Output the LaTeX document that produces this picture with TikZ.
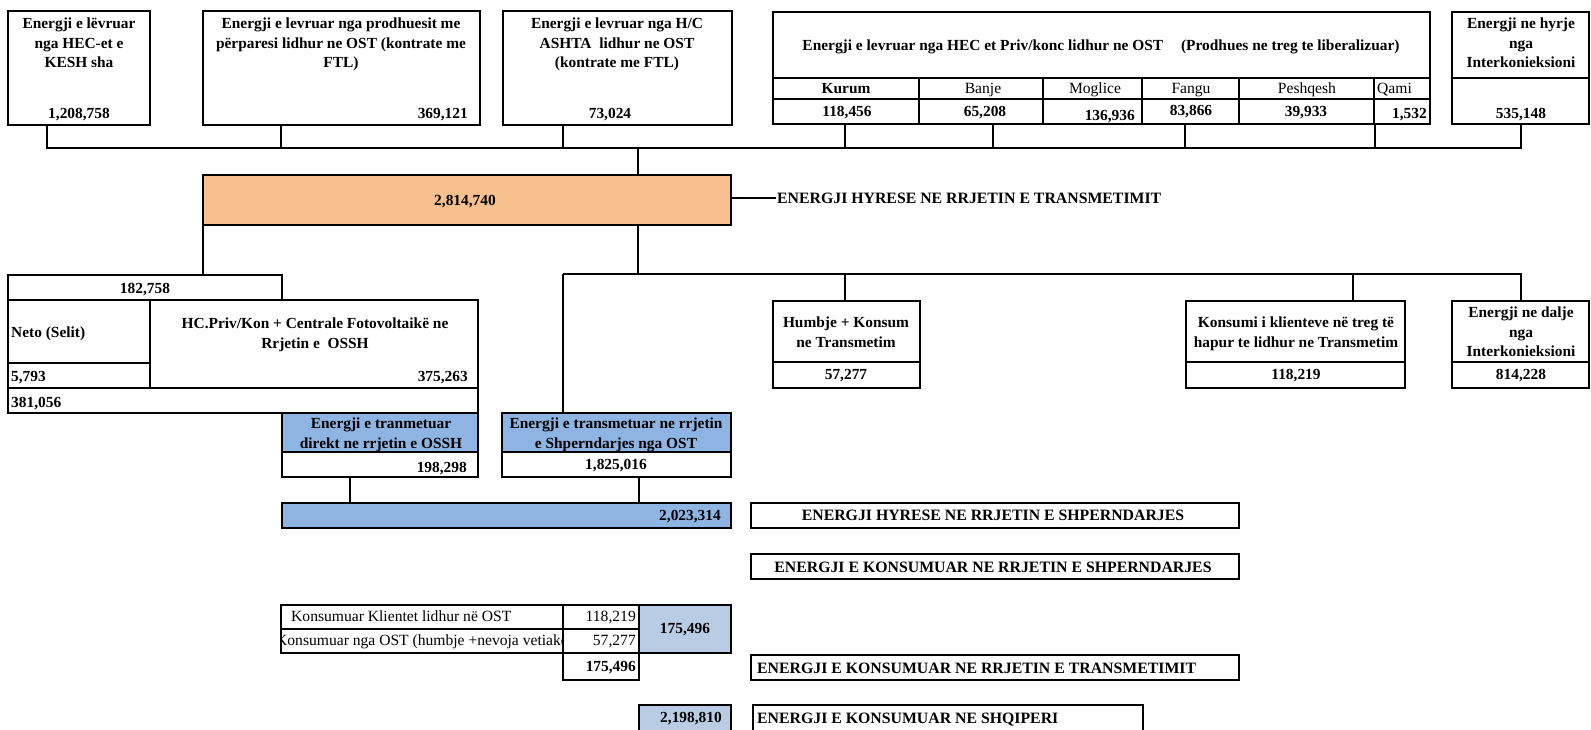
\documentclass[tikz,border=0pt]{standalone}
\usepackage{fontspec}
\setmainfont{Liberation Serif}
\definecolor{orangefill}{RGB}{248,191,143}
\definecolor{bluefill}{RGB}{141,180,226}
\definecolor{lightbluefill}{RGB}{184,204,228}
\tikzset{
  boxsty/.style={draw, line width=2.8pt, inner sep=0pt, outer sep=0pt},
  conn/.style={line width=2.3pt},
  bt/.style={font=\fontsize{15.4}{19.3}\selectfont\bfseries, inner sep=0pt, align=center},
  capt/.style={font=\fontsize{15.8}{19.3}\selectfont\bfseries, inner sep=0pt, align=center},
  rt/.style={font=\fontsize{15.6}{19.3}\selectfont, inner sep=0pt, align=center},
}
\newcommand{\rbox}[6][]{\node[boxsty,#1,anchor=north west,minimum width={(#4-#2)*1pt},minimum height={(#5-#3)*1pt}] (#6) at (#2,#3) {};}
\begin{document}
\begin{tikzpicture}[x=1pt,y=-1pt]
\clip (0,0) rectangle (1591,729);
% ---------- top row ----------
\rbox{8}{11}{150}{125}{b1}
\rbox{203}{11}{480}{125}{b2}
\rbox{503}{11}{732}{125}{b3}
\rbox{773}{12}{1430}{78}{th}
\rbox{773}{78}{919}{99}{tl1}
\rbox{919}{78}{1043}{99}{tl2}
\rbox{1043}{78}{1142}{99}{tl3}
\rbox{1142}{78}{1239}{99}{tl4}
\rbox{1239}{78}{1374}{99}{tl5}
\rbox{1374}{78}{1430}{99}{tl6}
\rbox{773}{99}{919}{124}{tv1}
\rbox{919}{99}{1043}{124}{tv2}
\rbox{1043}{99}{1142}{124}{tv3}
\rbox{1142}{99}{1239}{124}{tv4}
\rbox{1239}{99}{1374}{124}{tv5}
\rbox{1374}{99}{1430}{124}{tv6}
\rbox{1452}{12}{1589}{78}{b5h}
\rbox{1452}{78}{1589}{124}{b5v}

\node[bt,anchor=north] (b1t) at (79,18) {Energji e lëvruar\\nga HEC-et e\\KESH sha};
\node[bt,anchor=base] (b1n) at (79,118) {1,208,758};
\node[bt,anchor=north] (b2t) at (341,18) {Energji e levruar nga prodhuesit me\\përparesi lidhur ne OST (kontrate me\\FTL)};
\node[bt,anchor=base east] (b2n) at (468,118) {369,121};
\node[bt,anchor=north] (b3t) at (617,18) {Energji e levruar nga H/C\\ASHTA\ \ lidhur ne OST\\(kontrate me FTL)};
\node[bt,anchor=base] (b3n) at (610,118) {73,024};
\node[bt,anchor=base] (tht) at (1101,50) {Energji e levruar nga HEC et Priv/konc lidhur ne OST\hspace{18pt}(Prodhues ne treg te liberalizuar)};
\node[bt,anchor=base] (l1) at (846,93) {Kurum};
\node[rt,anchor=base] (l2) at (983,93) {Banje};
\node[rt,anchor=base] (l3) at (1095,93) {Moglice};
\node[rt,anchor=base] (l4) at (1191,93) {Fangu};
\node[rt,anchor=base] (l5) at (1307,93) {Peshqesh};
\node[rt,anchor=base west] (l6) at (1377,93) {Qami};
\node[bt,anchor=base] (v1) at (847,116) {118,456};
\node[bt,anchor=base] (v2) at (985,116) {65,208};
\node[bt,anchor=base east] (v3) at (1135,120) {136,936};
\node[bt,anchor=base] (v4) at (1191,115) {83,866};
\node[bt,anchor=base] (v5) at (1306,116) {39,933};
\node[bt,anchor=base east] (v6) at (1427,118) {1,532};
\node[bt,anchor=north] (b5t) at (1521,18) {Energji ne hyrje\\nga\\Interkonieksioni};
\node[bt,anchor=base] (b5n) at (1521,118) {535,148};

% ---------- top bus ----------
\coordinate (jb1) at (47,148);
\coordinate (jb2) at (281,148);
\coordinate (jb3) at (563,148);
\coordinate (jbc) at (638,148);
\coordinate (jb4) at (845,148);
\coordinate (jb5) at (993,148);
\coordinate (jb6) at (1185,148);
\coordinate (jb7) at (1375,148);
\coordinate (jb9) at (1521,148);
\draw[conn] (b1.south -| jb1) -- (jb1) -- (jb9) -- (b5v.south -| jb9);
\draw[conn] (b2.south -| jb2) -- (jb2);
\draw[conn] (b3.south -| jb3) -- (jb3);
\draw[conn] (tv1.south -| jb4) -- (jb4);
\draw[conn] (tv2.south -| jb5) -- (jb5);
\draw[conn] (tv4.south -| jb6) -- (jb6);
\draw[conn] (tv5.south -| jb7) -- (jb7);

% ---------- transmission input ----------
\rbox[fill=orangefill]{203}{175}{731}{225}{orng}
\node[bt,anchor=base] (orngt) at (465,205) {2,814,740};
\draw[conn] (jbc) -- (orng.north -| jbc);
\coordinate (tl) at (776,198);
\draw[conn] (orng.east |- tl) -- (tl);
\node[capt,anchor=base west] (hyrT) at (777,203) {ENERGJI HYRESE NE RRJETIN E TRANSMETIMIT};

% ---------- right branch ----------
\coordinate (jm) at (638,274);
\coordinate (jL) at (563,274);
\coordinate (jH) at (845,274);
\coordinate (jK) at (1353,274);
\coordinate (jR) at (1521,274);
\rbox{773}{301}{920}{362}{hum}
\rbox{773}{362}{920}{388}{humv}
\rbox{1186}{301}{1405}{362}{kon}
\rbox{1186}{362}{1405}{388}{konv}
\rbox{1452}{301}{1589}{362}{dal}
\rbox{1452}{362}{1589}{388}{dalv}
\node[bt,anchor=north] (humt) at (846,317) {Humbje + Konsum\\ne Transmetim};
\node[bt,anchor=base] (humn) at (846,379) {57,277};
\node[bt,anchor=north] (kont) at (1296,317) {Konsumi i klienteve në treg të\\hapur te lidhur ne Transmetim};
\node[bt,anchor=base] (konn) at (1296,379) {118,219};
\node[bt,anchor=north] (dalt) at (1521,307) {Energji ne dalje\\nga\\Interkonieksioni};
\node[bt,anchor=base] (daln) at (1521,379) {814,228};

% ---------- left group ----------
\rbox{8}{275}{282}{300}{d182}
\rbox{8}{300}{150}{363}{neto}
\rbox{8}{363}{150}{388}{neton}
\rbox{150}{300}{478}{388}{hc}
\rbox{8}{388}{478}{413}{d381}
\node[bt,anchor=base] (d182t) at (145,293) {182,758};
\node[bt,anchor=base west] (netot) at (11,337) {Neto (Selit)};
\node[bt,anchor=base west] (netonv) at (11,381) {5,793};
\node[bt,anchor=north] (hct) at (315,318) {HC.Priv/Kon + Centrale Fotovoltaikë ne\\Rrjetin e\ \ OSSH};
\node[bt,anchor=base east] (hcn) at (468,381) {375,263};
\node[bt,anchor=base west] (d381t) at (11,407) {381,056};

\draw[conn] (orng.south -| jm) -- (jm);
\draw[conn] (orng.south west) -- (d182.north -| orng.south west);

% ---------- distribution input ----------
\rbox[fill=bluefill]{282}{413}{478}{452}{bl1}
\rbox{282}{452}{478}{477}{bl1v}
\rbox[fill=bluefill]{502}{413}{731}{452}{bl2}
\rbox{502}{452}{731}{477}{bl2v}
\node[bt,anchor=north] (bl1t) at (381,418) {Energji e tranmetuar\\direkt ne rrjetin e OSSH};
\node[bt,anchor=base east] (bl1n) at (467,472) {198,298};
\node[bt,anchor=north] (bl2t) at (616,418) {Energji e transmetuar ne rrjetin\\e Shperndarjes nga OST};
\node[bt,anchor=base] (bl2n) at (616,469) {1,825,016};

\draw[conn] (jL) -- (jR) -- (dal.north -| jR);
\draw[conn] (jL) -- (bl2.north -| jL);
\draw[conn] (jH) -- (hum.north -| jH);
\draw[conn] (jK) -- (kon.north -| jK);

\rbox[fill=bluefill]{282}{503}{731}{528}{bar}
\node[bt,anchor=base east] (bart) at (721,520) {2,023,314};
\coordinate (k1) at (350,490);
\coordinate (k2) at (639,490);
\draw[conn] (bl1v.south -| k1) -- (bar.north -| k1);
\draw[conn] (bl2v.south -| k2) -- (bar.north -| k2);

% ---------- right labels ----------
\rbox{751}{503}{1239}{528}{r1}
\rbox{751}{554}{1239}{579}{r2}
\rbox{751}{655}{1239}{680}{r3}
\rbox{753}{705}{1143}{745}{r4}
\node[capt,anchor=base] (r1t) at (993,520) {ENERGJI HYRESE NE RRJETIN E SHPERNDARJES};
\node[capt,anchor=base] (r2t) at (993,572) {ENERGJI E KONSUMUAR NE RRJETIN E SHPERNDARJES};
\node[capt,anchor=base west] (r3t) at (757,673) {ENERGJI E KONSUMUAR NE RRJETIN E TRANSMETIMIT};
\node[capt,anchor=base west] (r4t) at (757,723) {ENERGJI E KONSUMUAR NE SHQIPERI};

% ---------- consumption table ----------
\rbox[fill=lightbluefill]{639}{605}{731}{653}{lb}
\rbox{281}{605}{563}{629}{c11}
\rbox{563}{605}{639}{629}{c12}
\rbox{281}{629}{563}{653}{c21}
\rbox{563}{629}{639}{653}{c22}
\rbox{563}{653}{639}{680}{s175}
\rbox[fill=lightbluefill]{639}{705}{731}{745}{tot}
\node[rt,anchor=base west] (c11t) at (291,621) {Konsumuar Klientet lidhur në OST};
\node[rt,anchor=base east] (c12t) at (636,621) {118,219};
\begin{scope}
\clip (282.4,630) rectangle (561.6,652);
\node[rt,anchor=base] (c21t) at (422,645) {Konsumuar nga OST (humbje +nevoja vetiake};
\end{scope}
\node[rt,anchor=base east] (c22t) at (636,645) {57,277};
\node[bt,anchor=base] (lbt) at (685,633) {175,496};
\node[bt,anchor=base east] (s175t) at (636,671) {175,496};
\node[bt,anchor=base east] (tott) at (722,722) {2,198,810};
\end{tikzpicture}
\end{document}
